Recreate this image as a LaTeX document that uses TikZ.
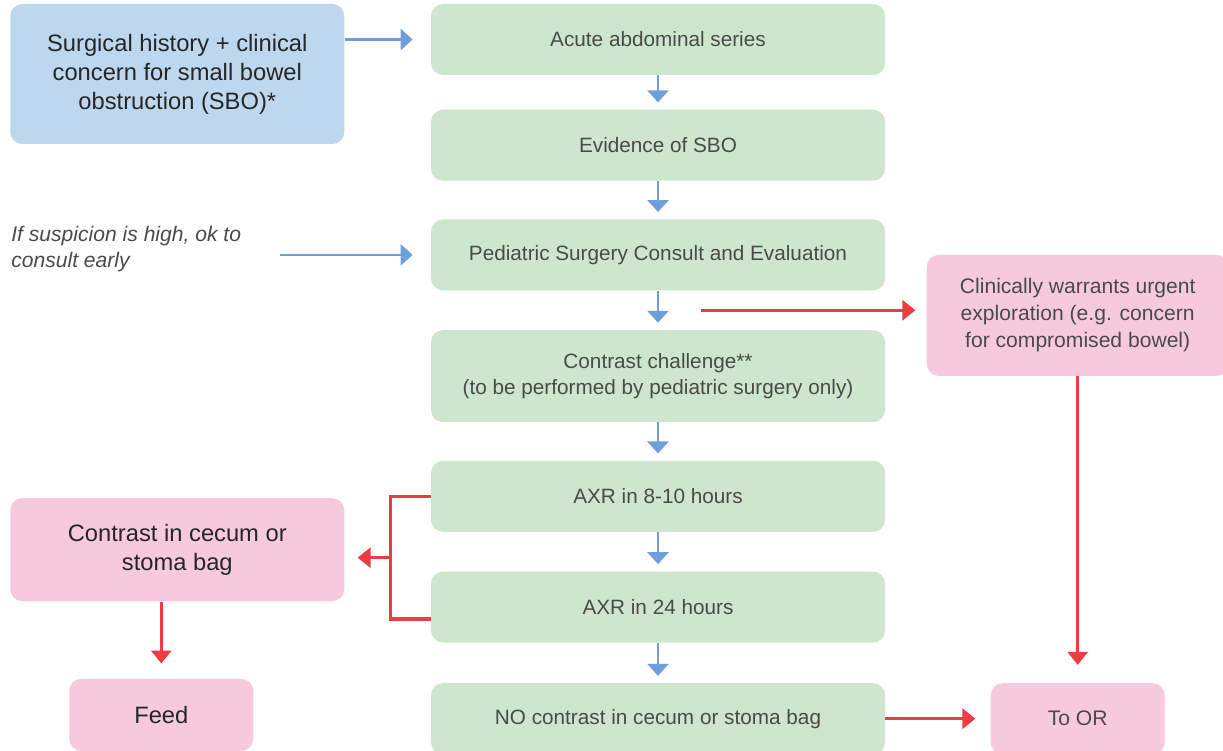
\documentclass[tikz,border=0pt]{standalone}
\usepackage{fontspec}
\setmainfont{Liberation Sans}
\usetikzlibrary{arrows.meta,positioning,calc}
\definecolor{boxblue}{HTML}{BDD7EE}
\definecolor{boxgreen}{HTML}{CDE6CD}
\definecolor{boxpink}{HTML}{F7C9DD}
\definecolor{arrblue}{HTML}{6F9FDB}
\definecolor{arrred}{HTML}{EE3B44}
\definecolor{txtgray}{HTML}{4A4A4A}

\begin{document}
\begin{tikzpicture}[
    stepgreen/.style={rectangle, rounded corners=0.24cm, fill=boxgreen, minimum width=9.08cm, minimum height=1.42cm, align=center, inner sep=0pt, text=txtgray, font=\fontsize{11.8}{15.2}\selectfont},
    bigbox/.style={rectangle, rounded corners=0.24cm, minimum width=6.68cm, align=center, inner sep=0pt, text=black!85, font=\fontsize{13.5}{16.5}\selectfont},
    pinkbox/.style={rectangle, rounded corners=0.24cm, fill=boxpink, align=center, inner sep=0pt, text=txtgray, font=\fontsize{12}{15.4}\selectfont},
    bluearr/.style={arrblue, line width=1.5pt, -{Triangle[length=0.24cm,width=0.42cm]}},
    redarr/.style={arrred, line width=1.8pt, -{Triangle[length=0.26cm,width=0.4cm]}}
]
    \useasboundingbox (0,0) rectangle (24.46,-15.02);

    % main column
    \node[stepgreen] (g1) at (13.16,-0.79) {Acute abdominal series};
    \node[stepgreen, below=0.68cm of g1] (g2) {Evidence of SBO};
    \node[stepgreen, below=0.76cm of g2] (g3) {Pediatric Surgery Consult and Evaluation};
    \node[stepgreen, below=0.78cm of g3, minimum height=1.84cm] (g4) {Contrast challenge**\\(to be performed by pediatric surgery only)};
    \node[stepgreen, below=0.76cm of g4] (g5) {AXR in 8-10 hours};
    \node[stepgreen, below=0.78cm of g5] (g6) {AXR in 24 hours};
    \node[stepgreen, below=0.80cm of g6] (g7) {NO contrast in cecum or stoma bag};

    \foreach \a/\b in {g1/g2, g2/g3, g3/g4, g4/g5, g5/g6, g6/g7}
        \draw[bluearr, shorten >=0.14cm] (\a.south) -- (\b.north);

    % side boxes
    \node[bigbox, fill=boxblue, minimum height=2.8cm, left=1.72cm of g1.north west, anchor=north east] (start) {Surgical history + clinical\\concern for small bowel\\obstruction (SBO)*};
    \node[anchor=west, inner sep=0pt, align=left, text=txtgray, font=\fontsize{12}{14.8}\selectfont\itshape] (note) at (0.22,-4.98) {If suspicion is high, ok to\\consult early};
    \node[pinkbox, minimum width=6.04cm, minimum height=2.42cm, anchor=west] (urgent) at ($(g3.east)+(0.82,-1.21)$) {Clinically warrants urgent\\exploration (e.g. concern\\for compromised bowel)};
    \node[bigbox, fill=boxpink, minimum height=2.06cm, anchor=east] (cecum) at ($(g5.west)!0.5!(g6.west)+(-1.72,0.04)$) {Contrast in cecum or\\stoma bag};
    \node[bigbox, fill=boxpink, minimum width=3.68cm, minimum height=1.44cm, below=1.54cm of cecum, xshift=-0.32cm] (feed) {Feed};
    \node[pinkbox, minimum width=3.48cm, minimum height=1.42cm, right=2.1cm of g7] (toor) {To OR};

    % connectors
    \draw[bluearr, shorten >=0.36cm] (start.east |- g1.west) -- (g1.west);
    \draw[bluearr, shorten <=0.78cm, shorten >=0.36cm] (note.east |- g3.west) -- (g3.west);

    \coordinate (split) at ($(g3.south)!0.5!(g4.north)+(0.86,0)$);
    \draw[redarr, shorten >=0.22cm] (split) -- (split -| urgent.west);
    \draw[redarr, shorten >=0.36cm] (urgent.south -| toor.north) -- (toor.north);
    \draw[redarr, shorten >=0.3cm] (cecum.south -| feed.north) -- (feed.north);
    \draw[redarr, shorten >=0.3cm] (g7.east) -- (toor.west);

    % bracket back from the x-rays
    \coordinate (brk) at ($(g5.west)!0.5!(g6.west)+(-0.8,-0.12)$);
    \draw[arrred, line width=1.8pt] (g5.west) -- (g5.west -| brk) |- ($(g6.west)+(0,-0.24)$);
    \draw[redarr, shorten >=0.26cm] (brk) -- (brk -| cecum.east);
\end{tikzpicture}
\end{document}
